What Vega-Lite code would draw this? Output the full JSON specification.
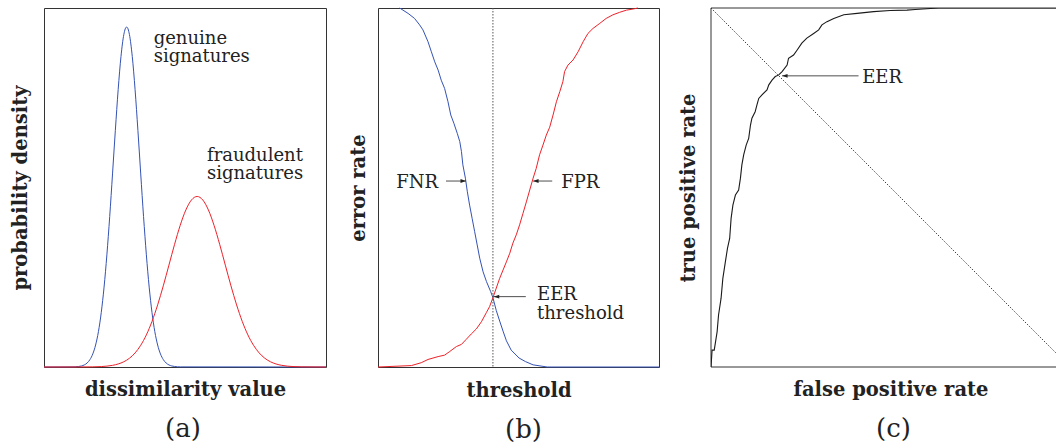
{
  "$schema": "https://vega.github.io/schema/vega-lite/v6.json",
  "padding": {"left": 9, "top": 5, "right": 0, "bottom": 0},
  "spacing": 52,
  "bounds": "flush",
  "resolve": {"scale": {"color": "independent"}},
  "config": {
    "font": "DejaVu Serif",
    "view": {"stroke": "#333", "strokeWidth": 1},
    "axis": {
      "domain": false, "ticks": false, "labels": false, "grid": false,
      "titleFont": "DejaVu Serif", "titleFontSize": 19.5, "titleFontWeight": "bold",
      "titleColor": "#222", "titlePadding": 13
    },
    "title": {
      "font": "DejaVu Serif", "fontSize": 26, "fontWeight": "normal", "color": "#222",
      "orient": "bottom", "offset": 17, "frame": "group"
    },
    "text": {"font": "DejaVu Serif", "fontSize": 18, "color": "#222", "align": "left", "baseline": "alphabetic", "lineBreak": "\n"}
  },
  "datasets": {
    "signatureDensity": [
      {"class": "genuine", "dissimilarity": 0, "density": 0},
      {"class": "genuine", "dissimilarity": 1.03, "density": 0.0003},
      {"class": "genuine", "dissimilarity": 1.23, "density": 0.0014},
      {"class": "genuine", "dissimilarity": 1.33, "density": 0.0029},
      {"class": "genuine", "dissimilarity": 1.43, "density": 0.0058},
      {"class": "genuine", "dissimilarity": 1.53, "density": 0.0112},
      {"class": "genuine", "dissimilarity": 1.63, "density": 0.0207},
      {"class": "genuine", "dissimilarity": 1.73, "density": 0.0364},
      {"class": "genuine", "dissimilarity": 1.83, "density": 0.0612},
      {"class": "genuine", "dissimilarity": 1.93, "density": 0.0985},
      {"class": "genuine", "dissimilarity": 2.03, "density": 0.1514},
      {"class": "genuine", "dissimilarity": 2.13, "density": 0.2225},
      {"class": "genuine", "dissimilarity": 2.23, "density": 0.3124},
      {"class": "genuine", "dissimilarity": 2.33, "density": 0.4192},
      {"class": "genuine", "dissimilarity": 2.43, "density": 0.5378},
      {"class": "genuine", "dissimilarity": 2.53, "density": 0.6593},
      {"class": "genuine", "dissimilarity": 2.63, "density": 0.7725},
      {"class": "genuine", "dissimilarity": 2.73, "density": 0.865},
      {"class": "genuine", "dissimilarity": 2.83, "density": 0.9258},
      {"class": "genuine", "dissimilarity": 2.88, "density": 0.9417},
      {"class": "genuine", "dissimilarity": 2.93, "density": 0.947},
      {"class": "genuine", "dissimilarity": 2.98, "density": 0.9417},
      {"class": "genuine", "dissimilarity": 3.03, "density": 0.9258},
      {"class": "genuine", "dissimilarity": 3.13, "density": 0.865},
      {"class": "genuine", "dissimilarity": 3.23, "density": 0.7725},
      {"class": "genuine", "dissimilarity": 3.33, "density": 0.6593},
      {"class": "genuine", "dissimilarity": 3.43, "density": 0.5378},
      {"class": "genuine", "dissimilarity": 3.53, "density": 0.4192},
      {"class": "genuine", "dissimilarity": 3.63, "density": 0.3124},
      {"class": "genuine", "dissimilarity": 3.73, "density": 0.2225},
      {"class": "genuine", "dissimilarity": 3.83, "density": 0.1514},
      {"class": "genuine", "dissimilarity": 3.93, "density": 0.0985},
      {"class": "genuine", "dissimilarity": 4.03, "density": 0.0612},
      {"class": "genuine", "dissimilarity": 4.13, "density": 0.0364},
      {"class": "genuine", "dissimilarity": 4.23, "density": 0.0207},
      {"class": "genuine", "dissimilarity": 4.33, "density": 0.0112},
      {"class": "genuine", "dissimilarity": 4.43, "density": 0.0058},
      {"class": "genuine", "dissimilarity": 4.53, "density": 0.0029},
      {"class": "genuine", "dissimilarity": 4.63, "density": 0.0014},
      {"class": "genuine", "dissimilarity": 4.83, "density": 0.0003},
      {"class": "genuine", "dissimilarity": 10, "density": 0},
      {"class": "fraudulent", "dissimilarity": 0, "density": 0},
      {"class": "fraudulent", "dissimilarity": 1.23, "density": 0.0001},
      {"class": "fraudulent", "dissimilarity": 1.73, "density": 0.0004},
      {"class": "fraudulent", "dissimilarity": 2.03, "density": 0.0012},
      {"class": "fraudulent", "dissimilarity": 2.23, "density": 0.0024},
      {"class": "fraudulent", "dissimilarity": 2.43, "density": 0.0046},
      {"class": "fraudulent", "dissimilarity": 2.63, "density": 0.0084},
      {"class": "fraudulent", "dissimilarity": 2.83, "density": 0.0146},
      {"class": "fraudulent", "dissimilarity": 3.03, "density": 0.0244},
      {"class": "fraudulent", "dissimilarity": 3.23, "density": 0.0392},
      {"class": "fraudulent", "dissimilarity": 3.43, "density": 0.0605},
      {"class": "fraudulent", "dissimilarity": 3.63, "density": 0.0894},
      {"class": "fraudulent", "dissimilarity": 3.83, "density": 0.127},
      {"class": "fraudulent", "dissimilarity": 4.03, "density": 0.173},
      {"class": "fraudulent", "dissimilarity": 4.23, "density": 0.2261},
      {"class": "fraudulent", "dissimilarity": 4.43, "density": 0.2837},
      {"class": "fraudulent", "dissimilarity": 4.63, "density": 0.3416},
      {"class": "fraudulent", "dissimilarity": 4.83, "density": 0.3946},
      {"class": "fraudulent", "dissimilarity": 5.03, "density": 0.4374},
      {"class": "fraudulent", "dissimilarity": 5.23, "density": 0.4653},
      {"class": "fraudulent", "dissimilarity": 5.43, "density": 0.475},
      {"class": "fraudulent", "dissimilarity": 5.63, "density": 0.4653},
      {"class": "fraudulent", "dissimilarity": 5.83, "density": 0.4374},
      {"class": "fraudulent", "dissimilarity": 6.03, "density": 0.3946},
      {"class": "fraudulent", "dissimilarity": 6.23, "density": 0.3416},
      {"class": "fraudulent", "dissimilarity": 6.43, "density": 0.2837},
      {"class": "fraudulent", "dissimilarity": 6.63, "density": 0.2261},
      {"class": "fraudulent", "dissimilarity": 6.83, "density": 0.173},
      {"class": "fraudulent", "dissimilarity": 7.03, "density": 0.127},
      {"class": "fraudulent", "dissimilarity": 7.23, "density": 0.0894},
      {"class": "fraudulent", "dissimilarity": 7.43, "density": 0.0605},
      {"class": "fraudulent", "dissimilarity": 7.63, "density": 0.0392},
      {"class": "fraudulent", "dissimilarity": 7.83, "density": 0.0244},
      {"class": "fraudulent", "dissimilarity": 8.03, "density": 0.0146},
      {"class": "fraudulent", "dissimilarity": 8.23, "density": 0.0084},
      {"class": "fraudulent", "dissimilarity": 8.43, "density": 0.0046},
      {"class": "fraudulent", "dissimilarity": 8.63, "density": 0.0024},
      {"class": "fraudulent", "dissimilarity": 8.83, "density": 0.0012},
      {"class": "fraudulent", "dissimilarity": 9.13, "density": 0.0004},
      {"class": "fraudulent", "dissimilarity": 9.63, "density": 0.0001},
      {"class": "fraudulent", "dissimilarity": 10, "density": 0}
    ],
    "densityLabels": [
      {"label": "genuine\nsignatures", "dissimilarity": 3.89, "density": 0.899},
      {"label": "fraudulent\nsignatures", "dissimilarity": 5.78, "density": 0.575}
    ],
    "errorRates": [
      {"rate": "FNR", "threshold": 0.077, "error": 1.0},
      {"rate": "FNR", "threshold": 0.107, "error": 0.985},
      {"rate": "FNR", "threshold": 0.13, "error": 0.971},
      {"rate": "FNR", "threshold": 0.148, "error": 0.953},
      {"rate": "FNR", "threshold": 0.16, "error": 0.939},
      {"rate": "FNR", "threshold": 0.178, "error": 0.906},
      {"rate": "FNR", "threshold": 0.19, "error": 0.878},
      {"rate": "FNR", "threshold": 0.202, "error": 0.85},
      {"rate": "FNR", "threshold": 0.214, "error": 0.827},
      {"rate": "FNR", "threshold": 0.225, "error": 0.799},
      {"rate": "FNR", "threshold": 0.237, "error": 0.776},
      {"rate": "FNR", "threshold": 0.249, "error": 0.739},
      {"rate": "FNR", "threshold": 0.259, "error": 0.702},
      {"rate": "FNR", "threshold": 0.27, "error": 0.679},
      {"rate": "FNR", "threshold": 0.282, "error": 0.651},
      {"rate": "FNR", "threshold": 0.291, "error": 0.628},
      {"rate": "FNR", "threshold": 0.297, "error": 0.6},
      {"rate": "FNR", "threshold": 0.302, "error": 0.563},
      {"rate": "FNR", "threshold": 0.311, "error": 0.526},
      {"rate": "FNR", "threshold": 0.318, "error": 0.488},
      {"rate": "FNR", "threshold": 0.326, "error": 0.451},
      {"rate": "FNR", "threshold": 0.335, "error": 0.414},
      {"rate": "FNR", "threshold": 0.344, "error": 0.377},
      {"rate": "FNR", "threshold": 0.353, "error": 0.34},
      {"rate": "FNR", "threshold": 0.362, "error": 0.303},
      {"rate": "FNR", "threshold": 0.374, "error": 0.265},
      {"rate": "FNR", "threshold": 0.386, "error": 0.238},
      {"rate": "FNR", "threshold": 0.401, "error": 0.21},
      {"rate": "FNR", "threshold": 0.409, "error": 0.193},
      {"rate": "FNR", "threshold": 0.421, "error": 0.157},
      {"rate": "FNR", "threshold": 0.433, "error": 0.128},
      {"rate": "FNR", "threshold": 0.445, "error": 0.1},
      {"rate": "FNR", "threshold": 0.457, "error": 0.073},
      {"rate": "FNR", "threshold": 0.474, "error": 0.047},
      {"rate": "FNR", "threshold": 0.502, "error": 0.025},
      {"rate": "FNR", "threshold": 0.525, "error": 0.015},
      {"rate": "FNR", "threshold": 0.552, "error": 0.006},
      {"rate": "FNR", "threshold": 0.602, "error": 0.0},
      {"rate": "FNR", "threshold": 1.0, "error": 0.0},
      {"rate": "FPR", "threshold": 0.0, "error": 0.0},
      {"rate": "FPR", "threshold": 0.119, "error": 0.004},
      {"rate": "FPR", "threshold": 0.154, "error": 0.012},
      {"rate": "FPR", "threshold": 0.178, "error": 0.021},
      {"rate": "FPR", "threshold": 0.214, "error": 0.029},
      {"rate": "FPR", "threshold": 0.237, "error": 0.033},
      {"rate": "FPR", "threshold": 0.255, "error": 0.043},
      {"rate": "FPR", "threshold": 0.279, "error": 0.057},
      {"rate": "FPR", "threshold": 0.297, "error": 0.063},
      {"rate": "FPR", "threshold": 0.314, "error": 0.077},
      {"rate": "FPR", "threshold": 0.332, "error": 0.092},
      {"rate": "FPR", "threshold": 0.35, "error": 0.106},
      {"rate": "FPR", "threshold": 0.368, "error": 0.126},
      {"rate": "FPR", "threshold": 0.386, "error": 0.152},
      {"rate": "FPR", "threshold": 0.397, "error": 0.168},
      {"rate": "FPR", "threshold": 0.409, "error": 0.193},
      {"rate": "FPR", "threshold": 0.421, "error": 0.22},
      {"rate": "FPR", "threshold": 0.433, "error": 0.247},
      {"rate": "FPR", "threshold": 0.445, "error": 0.27},
      {"rate": "FPR", "threshold": 0.457, "error": 0.293},
      {"rate": "FPR", "threshold": 0.469, "error": 0.317},
      {"rate": "FPR", "threshold": 0.48, "error": 0.345},
      {"rate": "FPR", "threshold": 0.492, "error": 0.368},
      {"rate": "FPR", "threshold": 0.504, "error": 0.396},
      {"rate": "FPR", "threshold": 0.516, "error": 0.428},
      {"rate": "FPR", "threshold": 0.528, "error": 0.46},
      {"rate": "FPR", "threshold": 0.54, "error": 0.493},
      {"rate": "FPR", "threshold": 0.552, "error": 0.526},
      {"rate": "FPR", "threshold": 0.563, "error": 0.553},
      {"rate": "FPR", "threshold": 0.575, "error": 0.591},
      {"rate": "FPR", "threshold": 0.587, "error": 0.618},
      {"rate": "FPR", "threshold": 0.599, "error": 0.646},
      {"rate": "FPR", "threshold": 0.611, "error": 0.668},
      {"rate": "FPR", "threshold": 0.623, "error": 0.702},
      {"rate": "FPR", "threshold": 0.635, "error": 0.739},
      {"rate": "FPR", "threshold": 0.647, "error": 0.767},
      {"rate": "FPR", "threshold": 0.658, "error": 0.795},
      {"rate": "FPR", "threshold": 0.664, "error": 0.823},
      {"rate": "FPR", "threshold": 0.676, "error": 0.841},
      {"rate": "FPR", "threshold": 0.694, "error": 0.855},
      {"rate": "FPR", "threshold": 0.712, "error": 0.878},
      {"rate": "FPR", "threshold": 0.73, "error": 0.906},
      {"rate": "FPR", "threshold": 0.747, "error": 0.929},
      {"rate": "FPR", "threshold": 0.765, "error": 0.943},
      {"rate": "FPR", "threshold": 0.789, "error": 0.957},
      {"rate": "FPR", "threshold": 0.812, "error": 0.971},
      {"rate": "FPR", "threshold": 0.836, "error": 0.981},
      {"rate": "FPR", "threshold": 0.86, "error": 0.988},
      {"rate": "FPR", "threshold": 0.884, "error": 0.994},
      {"rate": "FPR", "threshold": 0.907, "error": 0.997},
      {"rate": "FPR", "threshold": 0.925, "error": 1.0}
    ],
    "eerThreshold": [{"threshold": 0.409}],
    "errorArrows": [
      {"label": "FNR", "tip": 0.313, "tail": 0.242, "level": 0.518},
      {"label": "FPR", "tip": 0.552, "tail": 0.62, "level": 0.518},
      {"label": "EER", "tip": 0.412, "tail": 0.526, "level": 0.196}
    ],
    "errorLabels": [
      {"label": "FNR", "threshold": 0.065, "error": 0.499},
      {"label": "FPR", "threshold": 0.652, "error": 0.499},
      {"label": "EER\nthreshold", "threshold": 0.566, "error": 0.188}
    ],
    "roc": [
      {"fpr": 0, "tpr": 0},
      {"fpr": 0.003, "tpr": 0.047},
      {"fpr": 0.009, "tpr": 0.047},
      {"fpr": 0.017, "tpr": 0.098},
      {"fpr": 0.021, "tpr": 0.145},
      {"fpr": 0.028, "tpr": 0.191},
      {"fpr": 0.033, "tpr": 0.247},
      {"fpr": 0.04, "tpr": 0.293},
      {"fpr": 0.046, "tpr": 0.331},
      {"fpr": 0.052, "tpr": 0.358},
      {"fpr": 0.056, "tpr": 0.414},
      {"fpr": 0.061, "tpr": 0.451},
      {"fpr": 0.068, "tpr": 0.479},
      {"fpr": 0.077, "tpr": 0.493},
      {"fpr": 0.082, "tpr": 0.526},
      {"fpr": 0.086, "tpr": 0.563},
      {"fpr": 0.091, "tpr": 0.591},
      {"fpr": 0.098, "tpr": 0.618},
      {"fpr": 0.105, "tpr": 0.637},
      {"fpr": 0.11, "tpr": 0.674},
      {"fpr": 0.114, "tpr": 0.693},
      {"fpr": 0.123, "tpr": 0.711},
      {"fpr": 0.128, "tpr": 0.73},
      {"fpr": 0.133, "tpr": 0.748},
      {"fpr": 0.142, "tpr": 0.758},
      {"fpr": 0.156, "tpr": 0.772},
      {"fpr": 0.161, "tpr": 0.786},
      {"fpr": 0.17, "tpr": 0.799},
      {"fpr": 0.179, "tpr": 0.809},
      {"fpr": 0.188, "tpr": 0.813},
      {"fpr": 0.198, "tpr": 0.823},
      {"fpr": 0.212, "tpr": 0.841},
      {"fpr": 0.216, "tpr": 0.86},
      {"fpr": 0.23, "tpr": 0.869},
      {"fpr": 0.24, "tpr": 0.883},
      {"fpr": 0.253, "tpr": 0.902},
      {"fpr": 0.267, "tpr": 0.916},
      {"fpr": 0.286, "tpr": 0.929},
      {"fpr": 0.3, "tpr": 0.939},
      {"fpr": 0.309, "tpr": 0.953},
      {"fpr": 0.323, "tpr": 0.962},
      {"fpr": 0.342, "tpr": 0.971},
      {"fpr": 0.37, "tpr": 0.981},
      {"fpr": 0.407, "tpr": 0.985},
      {"fpr": 0.453, "tpr": 0.99},
      {"fpr": 0.499, "tpr": 0.993},
      {"fpr": 0.546, "tpr": 0.994},
      {"fpr": 0.569, "tpr": 0.996},
      {"fpr": 0.634, "tpr": 1.0},
      {"fpr": 1.0, "tpr": 1.0}
    ],
    "chance": [{"fpr": 0, "tpr": 1}, {"fpr": 1, "tpr": 0}],
    "rocArrows": [{"label": "EER", "tip": 0.198, "tail": 0.411, "level": 0.811}],
    "rocLabels": [{"label": "EER", "fpr": 0.421, "tpr": 0.79}]
  },
  "hconcat": [
    {
      "width": 282,
      "height": 359,
      "title": {"text": "(a)", "dx": -2},
      "layer": [
        {
          "data": {"name": "signatureDensity"},
          "mark": {"type": "line", "strokeWidth": 1, "interpolate": "monotone"},
          "encoding": {
            "x": {"field": "dissimilarity", "type": "quantitative", "scale": {"domain": [0, 10], "nice": false}, "axis": {"title": "dissimilarity value"}},
            "y": {"field": "density", "type": "quantitative", "scale": {"domain": [0, 1], "nice": false}, "axis": {"title": "probability density", "titlePadding": 14}},
            "color": {"field": "class", "type": "nominal", "scale": {"domain": ["genuine", "fraudulent"], "range": ["#3452b4", "#ee2028"]}, "legend": null}
          }
        },
        {
          "data": {"name": "densityLabels"},
          "mark": {"type": "text", "lineHeight": 18},
          "encoding": {
            "x": {"field": "dissimilarity", "type": "quantitative", "scale": {"domain": [0, 10]}},
            "y": {"field": "density", "type": "quantitative", "scale": {"domain": [0, 1]}},
            "text": {"field": "label"}
          }
        }
      ]
    },
    {
      "width": 281,
      "height": 359,
      "title": {"text": "(b)", "dx": 5},
      "layer": [
        {
          "data": {"name": "errorRates"},
          "mark": {"type": "line", "strokeWidth": 1},
          "encoding": {
            "x": {"field": "threshold", "type": "quantitative", "scale": {"domain": [0, 1], "nice": false}, "axis": {"title": "threshold", "titlePadding": 14}},
            "y": {"field": "error", "type": "quantitative", "scale": {"domain": [0, 1], "nice": false}, "axis": {"title": "error rate", "titlePadding": 10}},
            "color": {"field": "rate", "type": "nominal", "scale": {"domain": ["FNR", "FPR"], "range": ["#3452b4", "#ee2028"]}, "legend": null}
          }
        },
        {
          "data": {"name": "eerThreshold"},
          "mark": {"type": "rule", "color": "#555", "strokeWidth": 1, "strokeDash": [1.5, 1.5]},
          "encoding": {
            "x": {"field": "threshold", "type": "quantitative", "scale": {"domain": [0, 1]}}
          }
        },
        {
          "data": {"name": "errorArrows"},
          "mark": {"type": "rule", "color": "#222", "strokeWidth": 0.8},
          "encoding": {
            "x": {"field": "tip", "type": "quantitative", "scale": {"domain": [0, 1]}},
            "x2": {"field": "tail"},
            "y": {"field": "level", "type": "quantitative", "scale": {"domain": [0, 1]}}
          }
        },
        {
          "data": {"name": "errorArrows"},
          "mark": {"type": "point", "shape": "M0,0L2,-0.7L2,0.7Z", "filled": true, "size": 30, "color": "#222", "opacity": 1},
          "encoding": {
            "x": {"field": "tip", "type": "quantitative", "scale": {"domain": [0, 1]}},
            "y": {"field": "level", "type": "quantitative", "scale": {"domain": [0, 1]}},
            "angle": {"condition": {"test": "datum.tail < datum.tip", "value": 180}, "value": 0}
          }
        },
        {
          "data": {"name": "errorLabels"},
          "mark": {"type": "text", "lineHeight": 19.3},
          "encoding": {
            "x": {"field": "threshold", "type": "quantitative", "scale": {"domain": [0, 1]}},
            "y": {"field": "error", "type": "quantitative", "scale": {"domain": [0, 1]}},
            "text": {"field": "label"}
          }
        }
      ]
    },
    {
      "width": 347,
      "height": 359,
      "view": {"stroke": null},
      "title": {"text": "(c)", "dx": 9},
      "layer": [
        {
          "data": {"name": "chance"},
          "mark": {"type": "line", "color": "#444", "strokeWidth": 1, "strokeDash": [1.5, 1.5], "clip": true},
          "encoding": {
            "x": {"field": "fpr", "type": "quantitative", "scale": {"domain": [0, 0.9666], "nice": false}, "axis": {"title": "false positive rate", "titleX": 179.5}},
            "y": {"field": "tpr", "type": "quantitative", "scale": {"domain": [0, 1], "nice": false}, "axis": {"title": "true positive rate", "titlePadding": 12.5}}
          }
        },
        {
          "data": {"values": [{"tpr": 0}, {"tpr": 1}]},
          "mark": {"type": "rule", "color": "#333", "strokeWidth": 1},
          "encoding": {
            "y": {"field": "tpr", "type": "quantitative", "scale": {"domain": [0, 1]}}
          }
        },
        {
          "data": {"values": [{"fpr": 0}]},
          "mark": {"type": "rule", "color": "#333", "strokeWidth": 1},
          "encoding": {
            "x": {"field": "fpr", "type": "quantitative", "scale": {"domain": [0, 0.9666]}}
          }
        },
        {
          "data": {"name": "roc"},
          "mark": {"type": "line", "color": "#1a1a1a", "strokeWidth": 1.1, "clip": true},
          "encoding": {
            "x": {"field": "fpr", "type": "quantitative", "scale": {"domain": [0, 0.9666]}},
            "y": {"field": "tpr", "type": "quantitative", "scale": {"domain": [0, 1]}}
          }
        },
        {
          "data": {"name": "rocArrows"},
          "mark": {"type": "rule", "color": "#222", "strokeWidth": 0.8},
          "encoding": {
            "x": {"field": "tip", "type": "quantitative", "scale": {"domain": [0, 0.9666]}},
            "x2": {"field": "tail"},
            "y": {"field": "level", "type": "quantitative", "scale": {"domain": [0, 1]}}
          }
        },
        {
          "data": {"name": "rocArrows"},
          "mark": {"type": "point", "shape": "M0,0L2,-0.7L2,0.7Z", "filled": true, "size": 30, "color": "#222", "opacity": 1},
          "encoding": {
            "x": {"field": "tip", "type": "quantitative", "scale": {"domain": [0, 0.9666]}},
            "y": {"field": "level", "type": "quantitative", "scale": {"domain": [0, 1]}}
          }
        },
        {
          "data": {"name": "rocLabels"},
          "mark": {"type": "text"},
          "encoding": {
            "x": {"field": "fpr", "type": "quantitative", "scale": {"domain": [0, 0.9666]}},
            "y": {"field": "tpr", "type": "quantitative", "scale": {"domain": [0, 1]}},
            "text": {"field": "label"}
          }
        }
      ]
    }
  ]
}
